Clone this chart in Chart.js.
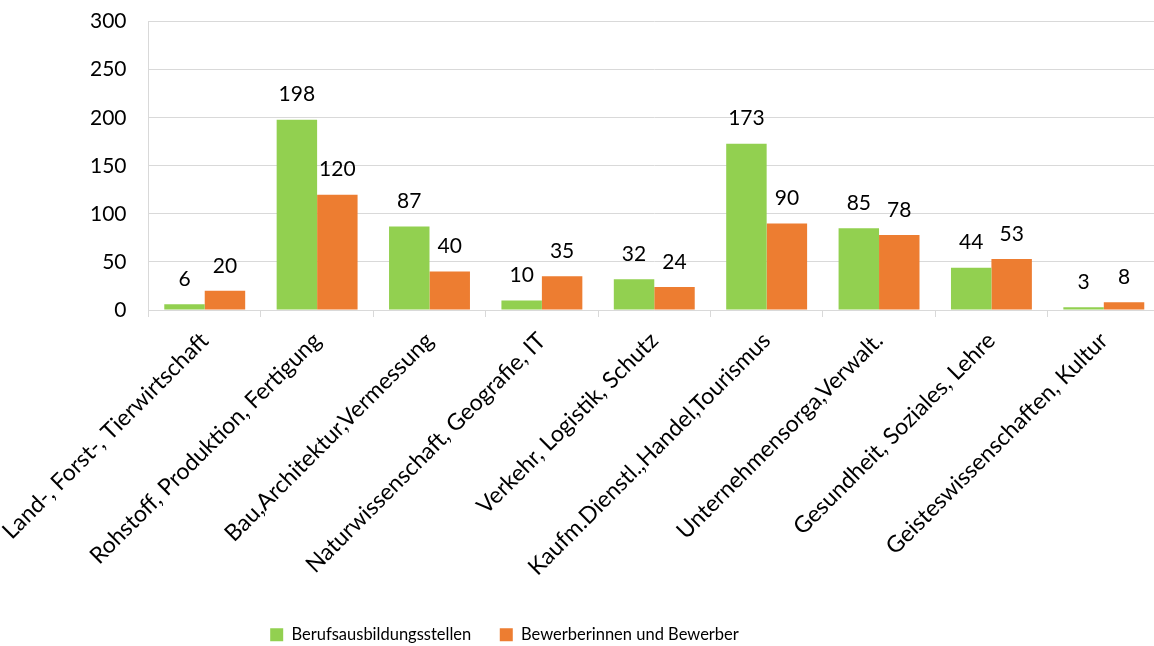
<!DOCTYPE html>
<html>
<head>
<meta charset="utf-8">
<script src="https://cdn.jsdelivr.net/npm/chart.js@4.4.0/dist/chart.umd.min.js"></script>
<style>
  html, body { margin: 0; padding: 0; background: #fff; overflow: hidden; }
  #wrap { width: 1160px; height: 646px; }
</style>
</head>
<body>
<div id="wrap"><canvas id="barChart"></canvas></div>
<script>
const categories = [
    'Land-, Forst-, Tierwirtschaft',
    'Rohstoff, Produktion, Fertigung',
    'Bau,Architektur,Vermessung',
    'Naturwissenschaft, Geografie, IT',
    'Verkehr, Logistik, Schutz',
    'Kaufm.Dienstl.,Handel,Tourismus',
    'Unternehmensorga,Verwalt.',
    'Gesundheit, Soziales, Lehre',
    'Geisteswissenschaften, Kultur'
];
const stellen = [6, 198, 87, 10, 32, 173, 85, 44, 3];
const bewerber = [20, 120, 40, 35, 24, 90, 78, 53, 8];
const yTicks = [0, 50, 100, 150, 200, 250, 300];

const FONT = 'Lato, "Open Sans", sans-serif';

// value labels above each bar
const valueLabels = {
    id: 'valueLabels',
    afterDatasetsDraw(chart) {
        const ctx = chart.ctx;
        ctx.save();
        ctx.font = '21px ' + FONT;
        ctx.fillStyle = '#000';
        ctx.textAlign = 'center';
        ctx.textBaseline = 'middle';
        chart.data.datasets.forEach((ds, i) => {
            chart.getDatasetMeta(i).data.forEach((bar, j) => {
                ctx.fillText(String(ds.data[j]), bar.x, bar.y - 25);
            });
        });
        ctx.restore();
    }
};

// legend sits a bit left of centre and close to the bottom edge
const legendNudge = {
    id: 'legendNudge',
    afterLayout(chart) {
        const l = chart.legend;
        const dx = -116, dy = 7;
        l.left += dx; l.right += dx;
        l.top += dy; l.bottom += dy;
    }
};

const ctx = document.getElementById('barChart').getContext('2d');
new Chart(ctx, {
    type: 'bar',
    data: {
        labels: categories,
        datasets: [{
            label: 'Berufsausbildungsstellen',
            data: stellen,
            backgroundColor: '#92D050'
        }, {
            label: 'Bewerberinnen und Bewerber',
            data: bewerber,
            backgroundColor: '#ED7D31'
        }]
    },
    options: {
        responsive: true,
        maintainAspectRatio: false,
        animation: false,
        layout: { padding: { left: 81, right: 0, top: 0, bottom: 0 } },
        datasets: {
            bar: { categoryPercentage: 0.72, barPercentage: 1.0 }
        },
        plugins: {
            legend: {
                position: 'bottom',
                labels: {
                    font: { family: FONT, size: 16.5 },
                    color: '#000',
                    boxWidth: 13,
                    boxHeight: 13,
                    padding: 28.5
                }
            },
            tooltip: { enabled: false }
        },
        scales: {
            x: {
                // rotated labels may run to the canvas edge
                afterFit(scale) {
                    scale.paddingLeft = 0;
                    scale.paddingRight = 0;
                },
                grid: {
                    offset: true,
                    drawOnChartArea: false,
                    drawTicks: true,
                    tickLength: 7,
                    color: '#d9d9d9'
                },
                border: { color: '#d9d9d9' },
                ticks: {
                    minRotation: 45,
                    maxRotation: 45,
                    padding: 10,
                    color: '#000',
                    font: { family: FONT, size: 23 }
                }
            },
            y: {
                min: 0,
                max: 300,
                afterBuildTicks(axis) {
                    axis.ticks = yTicks.map(v => ({ value: v }));
                },
                grid: {
                    color: '#d9d9d9',
                    drawTicks: true,
                    tickLength: 13,
                    tickColor: 'rgba(0,0,0,0)'
                },
                border: { color: '#d9d9d9' },
                ticks: {
                    padding: 9,
                    color: '#000',
                    font: { family: FONT, size: 21 }
                }
            }
        }
    },
    plugins: [valueLabels, legendNudge]
});
</script>
</body>
</html>
